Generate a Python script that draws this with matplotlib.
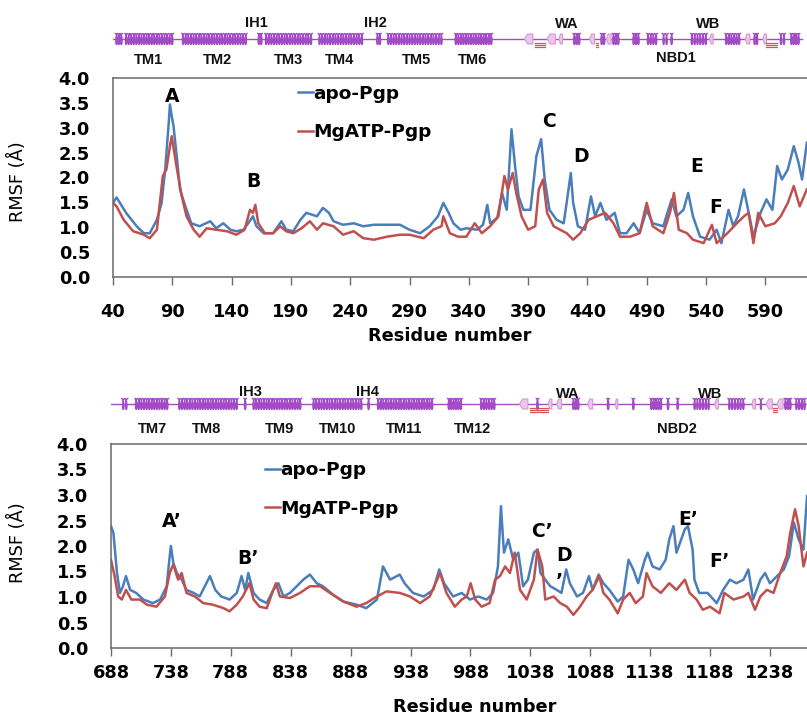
import numpy as np
import matplotlib.pyplot as plt
from matplotlib.patches import Polygon

plt.rcParams['font.family'] = 'DejaVu Sans'
plt.rcParams['font.weight'] = 'bold'

W, H = 807, 720
BLUE = '#4a7ebb'
RED = '#c0504d'
PURPLE = '#a34ac6'
SPINE = '#6a6a6a'

# ---------------- RMSF, first half (residues 40-625)
top_apo_res = [40, 43, 51, 60, 66, 71, 77, 81, 84, 87, 88, 89.5, 91, 94, 96.5, 101, 106, 113, 122, 127,
               133, 139, 144, 150, 154, 158, 161, 167, 175, 182, 186, 192, 198, 203, 212, 217, 222, 226,
               234, 243, 251, 260, 271, 282, 290, 299, 307, 314, 318.5, 323, 327, 333, 338, 347, 352,
               355.6, 358, 364, 368, 372, 376, 379, 382, 386, 392, 397, 401, 404, 408, 414, 420, 422.5,
               426, 428, 432, 438, 443, 446.5, 451, 456, 463, 467.5, 473, 479, 484, 490, 495, 504, 511,
               515, 521, 525, 529, 535, 543, 549, 553, 559, 563, 567, 572, 576, 580, 586, 591, 596, 600,
               604, 609, 614, 618, 621, 625]
top_apo = [1.49, 1.60, 1.29, 1.02, 0.88, 0.88, 1.15, 1.49, 2.16, 3.10, 3.47, 3.24, 3.04, 2.36, 1.76, 1.42,
           1.08, 1.02, 1.12, 0.98, 1.08, 0.95, 0.92, 0.95, 1.08, 1.22, 1.02, 0.88, 0.88, 1.12, 0.95, 0.92,
           1.15, 1.29, 1.22, 1.39, 1.29, 1.12, 1.05, 1.08, 1.02, 1.05, 1.05, 1.05, 0.95, 0.88, 1.02, 1.22,
           1.49, 1.29, 1.08, 0.95, 0.98, 0.95, 1.05, 1.45, 1.08, 1.19, 1.69, 1.35, 2.97, 2.23, 1.62, 1.35,
           1.35, 2.43, 2.77, 1.96, 1.35, 1.15, 1.08, 1.49, 2.09, 1.49, 1.02, 0.95, 1.62, 1.22, 1.49, 1.15,
           1.29, 0.88, 0.88, 1.08, 0.88, 1.35, 1.08, 1.02, 1.56, 1.22, 1.35, 1.69, 1.22, 0.81, 0.75, 0.95,
           0.68, 1.35, 1.02, 1.22, 1.76, 1.29, 0.81, 1.29, 1.56, 1.35, 2.23, 1.96, 2.16, 2.63, 2.30, 1.96,
           2.70]
top_mg_res = [40, 43, 49, 57, 66, 71, 77, 82, 85, 88, 89.5, 91, 94, 98, 102, 108, 113, 119, 127, 136, 144,
              151, 155.5, 158, 160, 162.5, 168, 175, 181, 186, 192, 199, 206, 212, 217, 226, 234, 243, 251,
              260, 271, 282, 290, 302, 310, 317, 318.5, 324, 331, 338, 345, 351, 358, 365, 370, 373, 377,
              380, 384.5, 390, 396, 399, 402.6, 406, 411.6, 417, 422.5, 428, 434, 441, 448, 455, 462, 467.5,
              476, 484, 490, 495, 504, 509.6, 513, 517, 524, 529, 538, 545, 549, 558, 566, 572, 576, 580,
              584, 590, 598, 603, 609, 614, 619, 625]
top_mg = [1.49, 1.42, 1.15, 0.92, 0.85, 0.78, 0.95, 2.03, 2.16, 2.63, 2.83, 2.60, 2.16, 1.62, 1.22, 0.95,
          0.81, 0.98, 0.95, 0.92, 0.85, 0.95, 1.35, 1.29, 1.45, 1.08, 0.88, 0.88, 1.02, 0.92, 0.88, 0.98,
          1.12, 0.95, 1.08, 1.02, 0.85, 0.92, 0.78, 0.75, 0.81, 0.85, 0.85, 0.78, 0.95, 1.02, 1.22, 0.88,
          0.81, 0.81, 1.08, 0.88, 1.02, 1.22, 2.03, 1.76, 2.09, 1.69, 1.22, 0.95, 1.02, 1.76, 1.96, 1.29,
          1.02, 0.95, 0.88, 0.75, 0.88, 1.15, 1.22, 1.29, 1.08, 0.81, 0.81, 0.88, 1.49, 1.02, 0.88, 1.29,
          1.69, 0.95, 0.88, 0.75, 0.68, 1.05, 0.68, 0.88, 1.08, 1.22, 1.29, 0.68, 1.29, 1.02, 1.08, 1.22,
          1.49, 1.83, 1.42, 1.76]
top_marks = [('A', 90, 3.62), ('B', 158, 1.92), ('C', 408, 3.13), ('D', 435, 2.42),
             ('E', 532, 2.22), ('F', 548, 1.39)]
top_ticks = [40, 90, 140, 190, 240, 290, 340, 390, 440, 490, 540, 590]

# ---------------- RMSF, second half (residues 688-1269)
bot_apo_res = [688, 690, 693, 695.5, 698, 700.5, 704, 709, 715, 723, 729, 734.5, 737, 738, 740, 743, 747,
               751, 757, 762, 770.6, 775, 780, 787, 793, 797, 800, 802.6, 807, 812, 818, 823.5, 827.7, 832,
               837.4, 843, 848.5, 854, 859.7, 865, 873.6, 882, 893, 901, 910, 915, 921, 929, 933, 940, 949,
               957, 962, 966, 973.6, 980.7, 987.6, 994.6, 1001.6, 1007, 1011, 1013.5, 1016, 1019.6, 1023.8,
               1028, 1032, 1036, 1041, 1044, 1046.5, 1050.5, 1054.7, 1060, 1064, 1068, 1071, 1077, 1082,
               1087, 1090, 1095, 1099, 1104, 1111, 1115.5, 1120, 1124, 1128, 1133.6, 1136, 1140, 1146, 1151,
               1154, 1157.5, 1160, 1164, 1167, 1169.6, 1173.5, 1175, 1179, 1186, 1193.6, 1199, 1204.6, 1210,
               1216, 1220, 1224, 1230, 1234, 1238, 1244, 1249.6, 1254, 1258, 1262, 1266, 1269]
bot_apo = [2.39, 2.26, 1.47, 1.08, 1.21, 1.41, 1.14, 1.08, 0.95, 0.88, 0.95, 1.21, 1.80, 2.00, 1.67, 1.47,
           1.34, 1.14, 1.08, 1.01, 1.41, 1.14, 1.01, 0.95, 1.08, 1.41, 1.14, 1.47, 1.08, 0.95, 0.88, 1.14,
           1.27, 1.01, 1.08, 1.21, 1.34, 1.44, 1.27, 1.21, 1.04, 0.91, 0.85, 0.78, 0.95, 1.60, 1.34, 1.44,
           1.27, 1.08, 1.01, 1.14, 1.54, 1.27, 1.01, 1.08, 0.95, 1.01, 0.95, 1.08, 1.60, 2.78, 1.87, 2.13,
           1.73, 1.87, 1.21, 1.34, 1.87, 1.93, 1.47, 1.34, 1.21, 1.14, 1.08, 1.54, 1.27, 1.01, 1.08, 1.41,
           1.14, 1.44, 1.27, 1.14, 0.91, 1.01, 1.73, 1.54, 1.27, 1.73, 1.87, 1.60, 1.54, 1.73, 2.13, 2.39,
           1.87, 2.13, 2.33, 2.39, 1.93, 1.34, 1.08, 1.08, 0.88, 1.14, 1.34, 1.27, 1.34, 1.54, 0.95, 1.34,
           1.47, 1.27, 1.41, 1.54, 1.80, 2.46, 2.13, 1.93, 2.98]
bot_mg_res = [688, 691, 694, 697, 700.5, 705, 712, 718, 726, 733, 737, 740, 744, 747, 751, 758, 765, 773,
              782, 787, 793, 798, 803.5, 807, 812, 818, 823.5, 825.7, 829, 837.4, 845.8, 854, 862.5, 870.8,
              882, 893, 901, 910, 918, 929, 937.6, 946, 954, 962.7, 968, 975, 980.7, 985, 988.2, 992, 997.4,
              1004, 1008.6, 1012.7, 1017, 1021, 1025, 1029.4, 1035, 1041, 1044, 1048, 1050.5, 1057.5, 1063,
              1068.5, 1074, 1079.5, 1085, 1090, 1095.6, 1099, 1104, 1111, 1115.5, 1121, 1126, 1132, 1135,
              1140, 1147, 1154, 1160, 1167, 1171, 1176.8, 1182, 1188, 1196, 1200, 1207.6, 1216, 1220,
              1225.6, 1230, 1235.5, 1241, 1246.6, 1252, 1255, 1259, 1262, 1266, 1269]
bot_mg = [1.73, 1.41, 1.01, 0.95, 1.14, 0.95, 0.95, 0.85, 0.81, 1.01, 1.47, 1.64, 1.34, 1.47, 1.08, 1.01,
          0.88, 0.85, 0.78, 0.72, 0.85, 1.01, 1.27, 0.95, 0.81, 0.78, 1.14, 1.27, 1.01, 0.98, 1.08, 1.21,
          1.21, 1.08, 0.91, 0.81, 0.88, 1.01, 1.11, 1.08, 1.01, 0.88, 1.01, 1.47, 1.08, 0.81, 0.95, 1.01,
          1.27, 0.95, 0.81, 0.88, 1.34, 1.41, 1.60, 1.47, 1.87, 1.14, 0.95, 1.34, 1.93, 1.60, 0.95, 1.01,
          0.88, 0.81, 0.65, 0.81, 1.01, 1.14, 1.41, 1.08, 0.95, 0.68, 0.95, 1.08, 0.88, 1.01, 1.47, 1.21,
          1.08, 1.27, 1.14, 1.34, 1.08, 0.95, 0.75, 0.81, 0.68, 1.08, 0.95, 1.01, 1.08, 0.75, 1.01, 1.14,
          1.08, 1.47, 1.80, 2.26, 2.72, 2.39, 1.60, 1.87]
bot_marks = [('A\u2019', 739, 2.48), ('B\u2019', 802, 1.75), ('C\u2019', 1048, 2.29), ('D', 1066, 1.81),
             ('\u2019', 1062, 1.30), ('E\u2019', 1170, 2.52), ('F\u2019', 1196, 1.70)]
bot_ticks = [688, 738, 788, 838, 888, 938, 988, 1038, 1088, 1138, 1188, 1238]

# ---------------- secondary structure (residue ranges)
top_span = (39, 621)
top_helices = [(42, 48), (50, 91), (98, 153), (162, 166), (168, 208), (213, 251), (262, 266), (271, 318),
               (328, 360), (428, 434), (451, 455), (461, 467), (478, 484), (490, 499), (503, 508), (510, 512),
               (527, 541), (556, 569), (580, 584), (602, 607), (611, 619)]
top_strands = [(387, 394), (406, 413), (416, 419), (442, 446), (456, 460), (543, 546), (573, 577), (588, 591)]
top_turns = [(396, 404), (447, 449), (591, 600)]
top_labels = [('TM1', 69.5, 60), ('TM2', 128.5, 60), ('TM3', 188, 60), ('TM4', 231, 60), ('TM5', 296, 60),
              ('TM6', 343, 60), ('IH1', 161, 23), ('IH2', 261, 23), ('WA', 423, 24), ('WB', 542, 24),
              ('NBD1', 515, 58)]

bot_span = (686, 1268)
bot_helices = [(697, 702), (708, 736), (744, 794), (799, 801), (806, 847), (856, 898), (902, 904), (910, 957),
               (969, 981), (996, 1009), (1043, 1045), (1073, 1079), (1102, 1104), (1123, 1125), (1138, 1148),
               (1152, 1154), (1160, 1162), (1174, 1188), (1203, 1217), (1229, 1232), (1250, 1256), (1259, 1268)]
bot_strands = [(1029, 1036), (1053, 1056), (1060, 1064), (1086, 1090), (1109, 1111), (1192, 1195),
               (1223, 1226), (1235, 1240), (1244, 1249)]
bot_turns = [(1038, 1053), (1241, 1244)]
bot_labels = [('TM7', 723, 64), ('TM8', 768, 64), ('TM9', 829, 64), ('TM10', 877, 64), ('TM11', 933, 64),
              ('TM12', 990, 64), ('IH3', 804, 27), ('IH4', 902, 27), ('WA', 1069, 29), ('WB', 1188, 29),
              ('NBD2', 1160, 64)]


def px_axes(fig, left, top, width, height):
    return fig.add_axes([left / W, 1 - (top + height) / H, width / W, height / H])


def rmsf_panel(ax, xmin, xmax, ticks, apo, mg, marks, leg_xy, tick_pad):
    ax.plot(apo[0], apo[1], color=BLUE, lw=1.8, label='apo-Pgp')
    ax.plot(mg[0], mg[1], color=RED, lw=1.8, label='MgATP-Pgp')
    ax.set_xlim(xmin, xmax)
    ax.set_ylim(0, 4)
    ax.set_xticks(ticks)
    ax.set_yticks(np.arange(0, 4.01, 0.5))
    ax.set_yticklabels(['%.1f' % v for v in np.arange(0, 4.01, 0.5)])
    ax.tick_params(axis='x', direction='out', length=6, width=1, color=SPINE, labelsize=12.8, pad=tick_pad)
    ax.tick_params(axis='y', length=0, labelsize=12.8, pad=16.5)
    for s in ax.spines.values():
        s.set_color(SPINE)
        s.set_linewidth(1.1)
    ax.set_ylabel('RMSF (\u00c5)', fontsize=12.8)
    for txt, x, y in marks:
        ax.text(x, y, txt, ha='center', va='center', fontsize=13.5)
    ax.legend(loc='upper left', bbox_to_anchor=leg_xy, frameon=False, handlelength=0.8,
              handletextpad=0.05, labelspacing=1.1, borderpad=0, borderaxespad=0,
              prop={'weight': 'bold', 'size': 13.3})


def topology(ax, xmin, xmax, k, span, helices, strands, turns, labels, y0):
    ax.set_xlim(xmin, xmax)
    ax.set_ylim(75, 0)
    ax.axis('off')
    ax.plot(span, [y0, y0], color='#9c52b8', lw=1.0, zorder=1)
    for a, b in helices:
        pitch = 2.6 / k
        n = max(1, int(round((b - a) / pitch)))
        t = np.linspace(0, 2 * np.pi * n, 40 * n)
        x = a + (b - a) * t / t[-1] + (1.3 / k) * np.sin(t)
        y = y0 - 5.5 * np.cos(t)
        ax.plot(x, y, color=PURPLE, lw=1.0, zorder=3)
    for a, b in strands:
        tip = min(3.0 / k, (b - a) * 0.4)
        pts = [(a, y0), (a + tip, y0 - 5), (b, y0 - 5), (b, y0 + 5), (a + tip, y0 + 5)]
        ax.add_patch(Polygon(pts, closed=True, fc='#efc4ec', ec='#d49bd2', lw=0.8, zorder=2))
    for a, b in turns:
        for dy in (3.5, 5.8, 8.1):
            ax.plot([a, b], [y0 + dy, y0 + dy], color='#d9534f', lw=0.9, zorder=2)
    for txt, x, y in labels:
        ax.text(x, y, txt, ha='center', va='center', fontsize=10.5, fontweight='bold',
                family='Liberation Sans', color='#111111')


fig = plt.figure(figsize=(W / 100, H / 100), dpi=100)

# first half
k1 = 1.186
ax1 = px_axes(fig, 113, 78, 735, 199)
x1max = 40 + 735 / k1
rmsf_panel(ax1, 40, x1max, top_ticks, (top_apo_res, top_apo), (top_mg_res, top_mg),
           top_marks, ((298 - 113) / 735, 0.965), 12.5)
ax1.yaxis.set_label_coords(-(113 - 27.5) / 735, (277 - 182) / 199)
fig.text(450 / W, 1 - 336 / H, 'Residue number', ha='center', va='center', fontsize=12.8)
st1 = px_axes(fig, 113, 0, 735, 75)
topology(st1, 40, x1max, k1, top_span, top_helices, top_strands, top_turns, top_labels, 39)

# second half
k2 = 1.198
ax2 = px_axes(fig, 111, 444, 733, 204)
x2max = 688 + 733 / k2
rmsf_panel(ax2, 688, x2max, bot_ticks, (bot_apo_res, bot_apo), (bot_mg_res, bot_mg),
           bot_marks, ((265 - 111) / 733, 0.915), 5.5)
ax2.yaxis.set_label_coords(-(111 - 27) / 733, (648 - 543) / 204)
fig.text(475 / W, 1 - 707 / H, 'Residue number', ha='center', va='center', fontsize=12.8)
st2 = px_axes(fig, 111, 365, 733, 75)
topology(st2, 688, x2max, k2, bot_span, bot_helices, bot_strands, bot_turns, bot_labels, 39)

fig.savefig('out.png', dpi=100)
